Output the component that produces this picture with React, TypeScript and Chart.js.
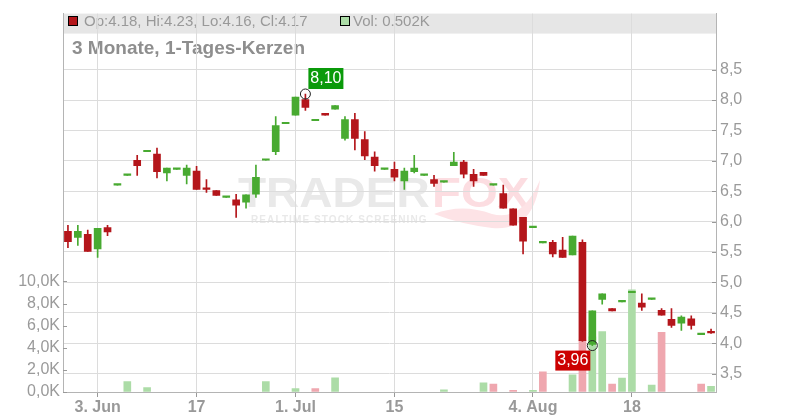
import React, { useEffect, useRef } from "react";
import { Chart, registerables } from "chart.js";

Chart.register(...registerables);

const dates = [
  "29.05", "30.05", "02.06", "03.06", "04.06", "05.06", "06.06", "09.06", "10.06", "11.06",
  "12.06", "13.06", "16.06", "17.06", "18.06", "19.06", "20.06", "23.06", "24.06", "25.06",
  "26.06", "27.06", "30.06", "01.07", "02.07", "03.07", "04.07", "07.07", "08.07", "09.07",
  "10.07", "11.07", "14.07", "15.07", "16.07", "17.07", "18.07", "21.07", "22.07", "23.07",
  "24.07", "25.07", "28.07", "29.07", "30.07", "31.07", "01.08", "04.08", "05.08", "06.08",
  "07.08", "08.08", "11.08", "12.08", "13.08", "14.08", "15.08", "18.08", "19.08", "20.08",
  "21.08", "22.08", "25.08", "26.08", "27.08", "28.08",
];

const xTickLabels: Record<string, string> = {
  "03.06": "3. Jun",
  "17.06": "17",
  "01.07": "1. Jul",
  "15.07": "15",
  "04.08": "4. Aug",
  "18.08": "18",
};

const opens = [
  5.84, 5.74, 5.79, 5.55, 5.90, 6.60, 6.76, 7.01, 7.15, 7.11,
  6.80, 6.86, 6.76, 6.83, 6.55, 6.51, 6.40, 6.36, 6.32, 6.45,
  7.01, 7.15, 7.61, 7.75, 8.01, 7.66, 7.78, 7.85, 7.37, 7.68,
  7.35, 7.06, 6.86, 6.86, 6.67, 6.82, 6.76, 6.69, 6.65, 6.92,
  6.98, 6.78, 6.81, 6.60, 6.46, 6.21, 6.07, 5.90, 5.65, 5.66,
  5.53, 5.45, 5.66, 3.98, 4.72, 4.57, 4.68, 4.83, 4.66, 4.72,
  4.54, 4.39, 4.33, 4.40, 4.14, 4.18,
];
const highs = [
  5.94, 5.94, 5.86, 5.89, 5.94, 6.60, 6.76, 7.09, 7.15, 7.21,
  6.88, 6.86, 6.93, 6.91, 6.69, 6.51, 6.40, 6.45, 6.44, 6.93,
  7.01, 7.73, 7.61, 8.05, 8.10, 7.66, 7.78, 7.91, 7.73, 7.78,
  7.48, 7.15, 6.86, 6.98, 6.88, 7.09, 6.76, 6.76, 6.65, 7.14,
  7.01, 6.86, 6.81, 6.60, 6.60, 6.21, 6.07, 5.90, 5.65, 5.69,
  5.74, 5.76, 5.70, 4.53, 4.81, 4.57, 4.68, 4.83, 4.81, 4.72,
  4.57, 4.57, 4.45, 4.45, 4.14, 4.23,
];
const lows = [
  5.57, 5.61, 5.51, 5.41, 5.77, 6.60, 6.76, 6.76, 7.15, 6.72,
  6.67, 6.86, 6.62, 6.53, 6.48, 6.43, 6.40, 6.07, 6.22, 6.40,
  7.01, 7.10, 7.61, 7.75, 7.83, 7.66, 7.75, 7.85, 7.34, 7.18,
  7.02, 6.83, 6.86, 6.67, 6.53, 6.80, 6.76, 6.58, 6.65, 6.92,
  6.72, 6.58, 6.76, 6.60, 6.22, 5.94, 5.47, 5.90, 5.65, 5.42,
  5.41, 5.45, 4.03, 3.96, 4.64, 4.53, 4.68, 4.83, 4.54, 4.72,
  4.46, 4.26, 4.21, 4.23, 4.14, 4.16,
];
const closes = [
  5.67, 5.84, 5.51, 5.89, 5.83, 6.60, 6.76, 6.92, 7.15, 6.82,
  6.88, 6.86, 6.88, 6.53, 6.53, 6.43, 6.40, 6.27, 6.44, 6.73,
  7.01, 7.58, 7.61, 8.05, 7.88, 7.66, 7.75, 7.91, 7.68, 7.37,
  7.08, 6.92, 6.86, 6.73, 6.83, 6.88, 6.76, 6.63, 6.65, 6.98,
  6.78, 6.67, 6.76, 6.60, 6.22, 5.94, 5.68, 5.90, 5.65, 5.47,
  5.41, 5.76, 4.04, 4.53, 4.81, 4.53, 4.68, 4.83, 4.59, 4.72,
  4.46, 4.29, 4.43, 4.29, 4.14, 4.17,
];
const volumes = [
  0, 0, 0, 0, 0, 0, 950, 0, 390, 0,
  0, 0, 0, 0, 0, 0, 0, 0, 0, 0,
  950, 0, 0, 300, 0, 300, 0, 1280, 0, 0,
  0, 0, 0, 0, 0, 0, 0, 0, 200, 0,
  0, 0, 830, 720, 0, 150, 0, 150, 1820, 0,
  0, 1550, 4700, 5000, 5470, 720, 1250, 9250, 0, 630,
  5400, 0, 0, 0, 720, 502,
];

const priceTicks = [3.5, 4.0, 4.5, 5.0, 5.5, 6.0, 6.5, 7.0, 7.5, 8.0, 8.5];
const volumeTicks = [0, 2000, 4000, 6000, 8000, 10000];

const titleText = "3 Monate, 1-Tages-Kerzen";

const UP = "#48aa31";
const DOWN = "#b4161b";
const VOL_UP = "#acdca7";
const VOL_DOWN = "#efa7af";
const FONT = '"Liberation Sans", Arial, sans-serif';

const fmt = (v: number, d: number) => v.toFixed(d).replace(".", ",");

export default function App() {
  const ref = useRef<HTMLCanvasElement | null>(null);

  useEffect(() => {
    const canvas = ref.current;
    if (!canvas) return;
    const n = closes.length;
    const last = n - 1;
    const bodyColors = closes.map((c, i) => (c >= opens[i] ? UP : DOWN));
    const volColors = closes.map((c, i) =>
      i === 0 || c >= closes[i - 1] ? VOL_UP : VOL_DOWN
    );
    let maxIdx = 0;
    let minIdx = 0;
    highs.forEach((h, i) => { if (h > highs[maxIdx]) maxIdx = i; });
    lows.forEach((l, i) => { if (l < lows[minIdx]) minIdx = i; });

    const backPlugin = {
      id: "backdrop",
      beforeDraw(chart: any) {
        const { ctx, chartArea: a } = chart;
        ctx.save();
        // watermark
        ctx.textBaseline = "alphabetic";
        ctx.textAlign = "left";
        ctx.font = `bold 43px ${FONT}`;
        ctx.fillStyle = "#e9e9e9";
        ctx.save();
        ctx.translate(238, 207);
        ctx.scale(1.07, 1.0);
        ctx.fillText("TRADER", 0, 0);
        ctx.restore();
        ctx.fillStyle = "#fcdde1";
        ctx.save();
        ctx.translate(432, 207);
        ctx.scale(1.1, 1.0);
        ctx.fillText("FOX", 0, 0);
        ctx.restore();
        // fox tail swoosh
        ctx.fillStyle = "#fde3e6";
        ctx.beginPath();
        ctx.moveTo(434, 214);
        ctx.quadraticCurveTo(462, 203, 492, 214);
        ctx.quadraticCurveTo(522, 222, 540, 180);
        ctx.quadraticCurveTo(534, 232, 492, 228);
        ctx.quadraticCurveTo(460, 224, 434, 214);
        ctx.fill();
        ctx.font = `bold 10px ${FONT}`;
        ctx.fillStyle = "#e9e9e9";
        (ctx as any).letterSpacing = "1.1px";
        ctx.fillText("REALTIME STOCK SCREENING", 251, 223);
        (ctx as any).letterSpacing = "0px";

        // legend band
        ctx.fillStyle = "#e6e6e6";
        ctx.fillRect(a.left, a.top, a.right - a.left, 20);
        ctx.fillStyle = DOWN;
        ctx.fillRect(68.5, 16.5, 9, 9);
        ctx.strokeStyle = "#000";
        ctx.lineWidth = 1;
        ctx.strokeRect(68.5, 16.5, 9, 9);
        ctx.fillStyle = VOL_UP;
        ctx.fillRect(340.5, 16.5, 9, 9);
        ctx.strokeRect(340.5, 16.5, 9, 9);
        ctx.font = `15px ${FONT}`;
        ctx.fillStyle = "#999999";
        ctx.textBaseline = "middle";
        ctx.fillText(
          `Op:${opens[last].toFixed(2)}, Hi:${highs[last].toFixed(2)}, Lo:${lows[last].toFixed(2)}, Cl:${closes[last].toFixed(2)}`,
          84, 21.5
        );
        ctx.fillText(`Vol: ${(volumes[last] / 1000).toFixed(3)}K`, 353, 21.5);

        // title
        ctx.font = `bold 19px ${FONT}`;
        ctx.fillStyle = "#8e8e8e";
        ctx.textBaseline = "alphabetic";
        ctx.fillText(titleText, 72, 54);
        ctx.restore();
      },
      afterDraw(chart: any) {
        const { ctx, chartArea: a, scales } = chart;
        ctx.save();
        ctx.strokeStyle = "#999";
        ctx.lineWidth = 1;
        ctx.beginPath();
        for (const v of priceTicks) {
          const y = Math.round(scales.yPrice.getPixelForValue(v)) + 0.5;
          ctx.moveTo(a.right - 4, y);
          ctx.lineTo(a.right, y);
        }
        for (const v of volumeTicks) {
          const y = Math.round(scales.yVol.getPixelForValue(v)) + 0.5;
          ctx.moveTo(a.left, y);
          ctx.lineTo(a.left + 4, y);
        }
        ctx.stroke();

        // max marker
        const mx = scales.x.getPixelForValue(maxIdx);
        const my = scales.yPrice.getPixelForValue(highs[maxIdx]);
        ctx.strokeStyle = "#222";
        ctx.beginPath();
        ctx.arc(mx, my, 5, 0, Math.PI * 2);
        ctx.stroke();
        ctx.fillStyle = "#0a9a0a";
        ctx.fillRect(mx + 3, my - 26, 35, 21);
        ctx.fillStyle = "#fff";
        ctx.font = `16px ${FONT}`;
        ctx.textAlign = "center";
        ctx.textBaseline = "middle";
        ctx.fillText(fmt(highs[maxIdx], 2), mx + 20.5, my - 15);

        // min marker
        const nx = scales.x.getPixelForValue(minIdx);
        const ny = scales.yPrice.getPixelForValue(lows[minIdx]);
        ctx.strokeStyle = "#222";
        ctx.beginPath();
        ctx.arc(nx, ny, 5, 0, Math.PI * 2);
        ctx.stroke();
        ctx.fillStyle = "#cc0000";
        ctx.fillRect(nx - 37, ny + 5, 35, 20);
        ctx.fillStyle = "#fff";
        ctx.fillText(fmt(lows[minIdx], 2), nx - 19.5, ny + 15.5);
        ctx.restore();
      },
    };

    const chart = new Chart(canvas, {
      type: "bar",
      data: {
        labels: dates,
        datasets: [
          {
            label: "body",
            data: opens.map((o, i) => [o, closes[i]]) as any,
            backgroundColor: bodyColors,
            barThickness: 7,
            grouped: false,
            minBarLength: 1.5,
            yAxisID: "yPrice",
            order: 0,
          } as any,
          {
            label: "wick",
            data: lows.map((l, i) => [l, highs[i]]) as any,
            backgroundColor: bodyColors,
            barThickness: 1,
            grouped: false,
            yAxisID: "yPrice",
            order: 1,
          } as any,
          {
            label: "volume",
            data: volumes.map((v) => (v > 0 ? v : null)) as any,
            backgroundColor: volColors,
            barThickness: 7,
            grouped: false,
            yAxisID: "yVol",
            order: 2,
          } as any,
        ],
      },
      options: {
        responsive: false,
        animation: false,
        devicePixelRatio: 1,
        layout: { padding: { top: 10, left: 0, right: 0, bottom: 0 } },
        plugins: {
          legend: { display: false },
          title: { display: false },
          tooltip: { enabled: false },
        },
        scales: {
          x: {
            type: "category",
            offset: true,
            grid: {
              color: "#dcdcdc",
              offset: false,
              drawTicks: true,
              tickLength: 5,
              tickColor: "#999",
            },
            border: { color: "#b4b4b4" },
            ticks: {
              autoSkip: false,
              maxRotation: 0,
              padding: 1,
              color: "#999999",
              font: { family: FONT, size: 16, weight: "bold" },
              callback: (v: any) => xTickLabels[dates[v as number]] ?? "",
            },
            afterBuildTicks: (scale: any) => {
              scale.ticks = scale.ticks.filter((t: any) => xTickLabels[dates[t.value]]);
            },
            afterFit: (scale: any) => {
              scale.height = 28;
            },
          } as any,
          yPrice: {
            type: "linear",
            position: "right",
            min: 3.196,
            max: 9.423,
            grid: { color: "#dcdcdc", drawTicks: false },
            border: { color: "#b4b4b4" },
            ticks: {
              padding: 4,
              color: "#9a9a9a",
              font: { family: FONT, size: 16 },
              callback: (v: any) => fmt(Number(v), 1),
            },
            afterBuildTicks: (scale: any) => {
              scale.ticks = priceTicks.map((v) => ({ value: v }));
            },
            afterFit: (scale: any) => {
              scale.width = 84;
            },
          } as any,
          yVol: {
            type: "linear",
            position: "left",
            min: 0,
            max: 34230,
            grid: { drawOnChartArea: false, drawTicks: false },
            border: { color: "#b4b4b4" },
            ticks: {
              padding: 3,
              color: "#9a9a9a",
              font: { family: FONT, size: 16 },
              callback: (v: any) => fmt(Number(v) / 1000, 1) + "K",
            },
            afterBuildTicks: (scale: any) => {
              scale.ticks = volumeTicks.map((v) => ({ value: v }));
            },
            afterFit: (scale: any) => {
              scale.width = 63;
            },
          } as any,
        },
      },
      plugins: [backPlugin],
    });
    return () => chart.destroy();
  }, []);

  return (
    <div style={{ position: "absolute", left: 0, top: 0, width: 800, height: 420, background: "#fff" }}>
      <canvas ref={ref} width={800} height={420} style={{ width: 800, height: 420, display: "block" }} />
    </div>
  );
}
